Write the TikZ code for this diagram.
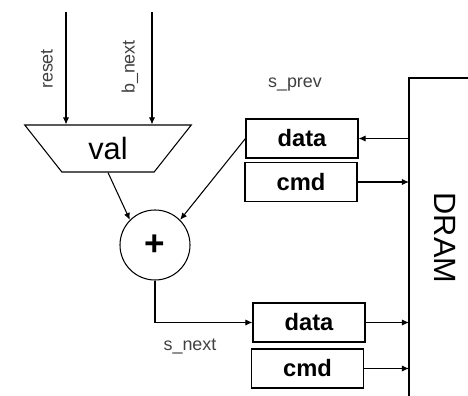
\documentclass[tikz,border=0pt]{standalone}
\usepackage{fontspec}
\setmainfont{Liberation Sans}
\usepackage{tikz}
\usetikzlibrary{shapes,arrows.meta,positioning,calc}

\tikzset{
  arr/.style={-{Latex[length=4pt,width=3.5pt]}},
  regbox/.style={draw, minimum width=112*0.02cm, minimum height=39*0.02cm, inner sep=0pt, font=\fontsize{13.5}{14}\selectfont\bfseries},
  siglabel/.style={text=black!75, font=\fontsize{10.2}{11}\selectfont, inner sep=0pt}
}

\begin{document}
\begin{tikzpicture}[x=0.02cm, y=-0.02cm, line width=0.6pt]
        \useasboundingbox (0,0) rectangle (468,396);

        % Mux for the value
        \node[draw, trapezium, shape border rotate=180, trapezium angle=55, trapezium stretches=true,
              minimum width=167*0.02cm, minimum height=47*0.02cm, inner sep=0pt,
              font=\fontsize{17.5}{18}\selectfont] (val) at (108,148.5) {val};

        % Inputs
        \coordinate (resetin) at (66,12);
        \coordinate (bnextin) at (152,12);
        \draw[arr] (resetin) -- (resetin |- val.north);
        \draw[arr] (bnextin) -- (bnextin |- val.north);
        \node[siglabel, rotate=90] (lreset) at (47,69) {reset};
        \node[siglabel, rotate=90] (lbnext) at (130,67) {b\_next};

        % Adder
        \node[draw, circle, minimum size=70*0.02cm, inner sep=0pt, font=\fontsize{20}{20}\selectfont\bfseries] (sum) at (155,245) {+};

        % Previous state
        \node[regbox] (dprev) at (302,138.5) {data};
        \node[regbox] (cprev) at (301,182) {cmd};
        \node[siglabel] (lprev) at (295,85) {s\_prev};

        % Next state
        \node[regbox] (dnext) at (309,322.5) {data};
        \node[regbox] (cnext) at (307.5,368.5) {cmd};
        \node[siglabel] (lnext) at (190,346) {s\_next};

        % DRAM
        \coordinate (dramtop) at (409,78);
        \coordinate (dramright) at (468,78);
        \coordinate (drambot) at (409,396);
        \draw (dramright) -- (dramtop) -- (drambot);
        \node[rotate=-90, font=\fontsize{17.5}{18}\selectfont] (dram) at (445,238) {DRAM};

        % Connections
        \draw[arr] (val.south) -- (sum.135);
        \draw[arr] (dprev.west) -- (sum.45);
        \draw[arr] (sum.south) |- (dnext.west);
        \draw[arr] (dprev.east -| dramtop) -- (dprev.east);
        \draw[arr] (cprev.east) -- (cprev.east -| dramtop);
        \draw[arr] (dnext.east) -- (dnext.east -| dramtop);
        \draw[arr] (cnext.east) -- (cnext.east -| dramtop);
    \end{tikzpicture}
\end{document}
